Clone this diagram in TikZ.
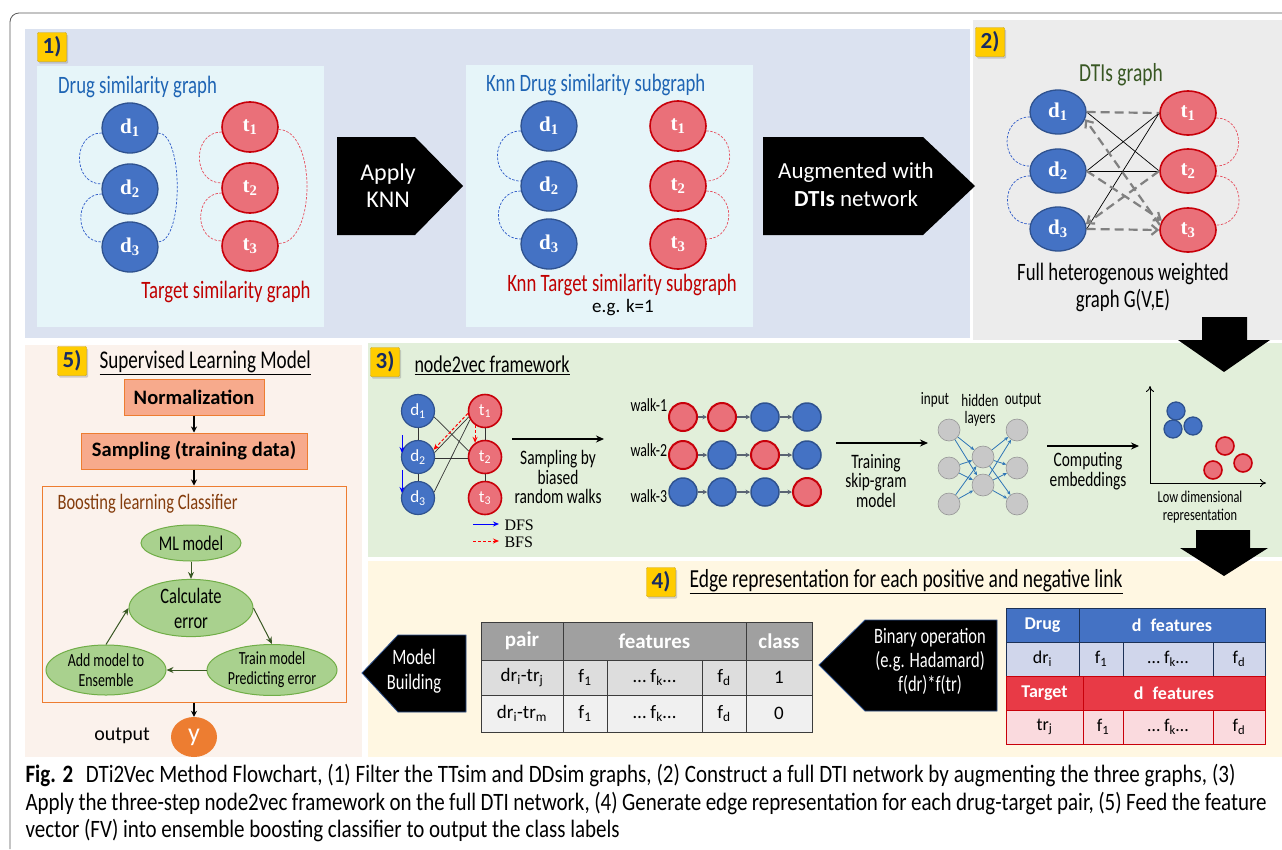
\documentclass[tikz,border=0pt]{standalone}
\usepackage{fontspec}
\setmainfont{Carlito}
\newfontfamily\condf{Carlito}[FakeStretch=0.75]
\newfontfamily\capf{Carlito}[FakeStretch=0.84]
\newfontfamily\serf{Liberation Serif}
\usetikzlibrary{shapes.geometric,arrows.meta,shadows}
\newcommand\fsz[2]{\fontsize{#1}{#2}\selectfont}
\definecolor{pA}{RGB}{219,226,240}
\definecolor{pB}{RGB}{236,236,236}
\definecolor{pC}{RGB}{226,239,218}
\definecolor{pD}{RGB}{255,247,226}
\definecolor{pE}{RGB}{251,242,236}
\definecolor{inbox}{RGB}{230,245,249}
\definecolor{dfill}{RGB}{68,114,196}
\definecolor{dbord}{RGB}{47,82,143}
\definecolor{tfill}{RGB}{234,112,121}
\definecolor{tbord}{RGB}{200,0,10}
\definecolor{arcblue}{RGB}{45,90,200}
\definecolor{arcred}{RGB}{230,80,95}
\definecolor{lblY}{RGB}{255,204,0}
\definecolor{navy}{RGB}{23,43,99}
\definecolor{txtblue}{RGB}{30,100,180}
\definecolor{txtred}{RGB}{192,0,0}
\definecolor{dgreen}{RGB}{56,87,35}
\definecolor{salmon}{RGB}{247,170,140}
\definecolor{orng}{RGB}{237,125,49}
\definecolor{lgreen}{RGB}{169,209,142}
\definecolor{mgreen}{RGB}{112,173,71}
\definecolor{brn}{RGB}{132,60,12}
\definecolor{nngrey}{RGB}{200,200,200}
\definecolor{nnbord}{RGB}{150,150,150}
\definecolor{nnblue}{RGB}{46,117,182}
\definecolor{thdr}{RGB}{160,160,160}
\definecolor{trow1}{RGB}{221,221,221}
\definecolor{trow2}{RGB}{240,240,240}
\definecolor{tline}{RGB}{60,60,60}
\definecolor{drhdr}{RGB}{68,114,196}
\definecolor{drrow}{RGB}{208,214,235}
\definecolor{tghdr}{RGB}{232,58,70}
\definecolor{tgrow}{RGB}{250,218,222}
\definecolor{walkarr}{RGB}{90,100,115}
\definecolor{framec}{RGB}{90,90,90}
\tikzset{
 lbl/.style={fill=lblY, draw=lblY!80!black, line width=0.4pt, rounded corners=1pt, font=\bfseries\fsz{23}{24}, text=navy, minimum width=29pt, minimum height=29pt, inner sep=1pt, drop shadow={opacity=0.35, shadow xshift=1.5pt, shadow yshift=-2pt}},
 dn/.style={ellipse, draw=dbord, line width=1.3pt, fill=dfill, minimum width=56pt, minimum height=50pt, inner sep=0pt, text=white, font=\serf\bfseries\fsz{21}{22}},
 tn/.style={dn, draw=tbord, fill=tfill, line width=1.6pt},
 dnb/.style={dn, minimum height=44pt},
 tnb/.style={tn, minimum height=44pt},
 bdash/.style={draw=arcblue, line width=0.7pt, dash pattern=on 2.5pt off 1.5pt},
 rdash/.style={draw=arcred, line width=0.7pt, dash pattern=on 2.5pt off 1.5pt},
 ctitle/.style={font=\condf\fsz{25}{27}, inner sep=0pt},
 wtxt/.style={text=white, align=center, inner sep=0pt},
 sd/.style={circle, draw=dbord, line width=1.2pt, fill=dfill, minimum size=33pt, inner sep=0pt, text=white, font=\fsz{17}{17}},
 st/.style={sd, draw=tbord, fill=tfill, line width=1.6pt},
 gl/.style={draw=black!80, line width=0.7pt},
 wd/.style={circle, draw=dbord, line width=1.5pt, fill=dfill, minimum size=28pt, inner sep=0pt},
 wt/.style={wd, draw=tbord, fill=tfill, line width=2pt},
 wa/.style={draw=walkarr, line width=1.2pt, -{Stealth[length=4.5pt,width=4.5pt]}},
 nn/.style={circle, draw=nnbord, line width=0.6pt, fill=nngrey, minimum size=22pt, inner sep=0pt},
 nna/.style={draw=nnblue, line width=0.8pt, -{Stealth[length=4pt,width=3.5pt]}},
 edot/.style={circle, draw=dbord, line width=1.3pt, fill=dfill, minimum size=18pt, inner sep=0pt},
 rdot/.style={edot, draw=tbord, fill=tfill, line width=1.6pt},
 la/.style={draw=black, line width=1.5pt, -{Stealth[length=8pt,width=7pt]}},
 ptxt/.style={font=\condf\fsz{20.5}{19.5}, align=center, inner sep=0pt},
 sb/.style={draw=orng, line width=1pt, fill=salmon, font=\bfseries\fsz{20.5}{22}, inner sep=0pt},
 ge/.style={ellipse, draw=mgreen, line width=1pt, fill=lgreen, align=center, inner sep=0pt},
 ga/.style={draw=dgreen, line width=1pt, -{Stealth[length=7pt,width=6pt]}},
 ba/.style={draw=black, line width=1.4pt, -{Stealth[length=6pt,width=6pt]}},
 gd/.style={draw=black!50, line width=2.2pt, dash pattern=on 9pt off 5pt},
 gda/.style={gd, -{Straight Barb[length=6pt,width=10pt]}},
 bl/.style={draw=black, line width=0.7pt},
 cell/.style={draw=tline, line width=0.9pt, inner sep=0pt, font=\fsz{19}{20}},
 hcell/.style={cell, fill=thdr, text=white, font=\bfseries\fsz{21}{22}},
 dcell/.style={draw=dbord!60!black, line width=0.8pt, inner sep=0pt, font=\fsz{18}{20}},
 tcell/.style={draw=tbord, line width=0.8pt, inner sep=0pt, font=\fsz{18}{20}},
}
\begin{document}
\begin{tikzpicture}[x=1pt,y=-1pt]
\useasboundingbox (0,0) rectangle (1282,849);
\fill[white] (0,0) rectangle (1282,849);
% panel backgrounds
\fill[pA] (25,29) rectangle (970,338);
\fill[pB] (973,20) rectangle (1282,340);
\fill[pE] (25,345) rectangle (362,757);
\fill[pC] (368,343) rectangle (1282,557);
\fill[pD] (368,561) rectangle (1282,757);
\draw[framec, line width=0.8pt, rounded corners=9pt] (10,849) -- (10,13) -- (1282,13);

% ---------- panel 1
\node[lbl] (L1) at (52,47) {1)};
\fill[inbox] (37,66) rectangle (324,327);
\node[ctitle, text=txtblue, anchor=west] (T1a) at (58,87) {Drug similarity graph};
\node[ctitle, text=txtred] (T1b) at (226,292) {Target similarity graph};
\node[dn] (a1) at (130,128) {d\textsubscript{1}};
\node[dn] (a2) at (130,189) {d\textsubscript{2}};
\node[dn] (a3) at (130,247) {d\textsubscript{3}};
\node[tn] (b1) at (250,127) {t\textsubscript{1}};
\node[tn] (b2) at (250,188) {t\textsubscript{2}};
\node[tn] (b3) at (250,246) {t\textsubscript{3}};
\draw[bdash] (a1.190) to[out=180,in=180,looseness=1.5] (a2.170);
\draw[bdash] (a2.190) to[out=180,in=180,looseness=1.5] (a3.170);
\draw[bdash] (a1.-10) to[out=0,in=0,looseness=0.6] (a3.10);
\draw[rdash] (b1.190) to[out=180,in=180,looseness=1.5] (b2.170);
\draw[rdash] (b2.190) to[out=180,in=180,looseness=1.5] (b3.170);
\draw[rdash] (b1.-5) to[out=0,in=0,looseness=0.85] (b3.5);

\fill[black] (337,137) -- (415,137) -- (463,186) -- (415,235) -- (337,235) -- cycle;
\node[wtxt, font=\fsz{24}{27}] (knn) at (388,186) {Apply\\KNN};

% ---------- middle box
\fill[inbox] (466,65) rectangle (753,327);
\node[ctitle, text=txtblue, anchor=west] (T2a) at (486,85) {Knn Drug similarity subgraph};
\node[ctitle, text=txtred] (T2b) at (622,285) {Knn Target similarity subgraph};
\node[font=\fsz{19}{20}] (T2c) at (623,308) {e.g. k=1};
\node[dn] (c1) at (549,126) {d\textsubscript{1}};
\node[dn] (c2) at (549,186) {d\textsubscript{2}};
\node[dn] (c3) at (549,244) {d\textsubscript{3}};
\node[tn] (e1) at (678,126) {t\textsubscript{1}};
\node[tn] (e2) at (678,186) {t\textsubscript{2}};
\node[tn] (e3) at (678,244) {t\textsubscript{3}};
\draw[bdash] (c1.190) to[out=180,in=180,looseness=1.6] (c2.170);
\draw[bdash] (c2.190) to[out=180,in=180,looseness=1.6] (c3.170);
\draw[rdash] (e1.-10) to[out=0,in=0,looseness=1.6] (e2.10);
\draw[rdash] (e2.-10) to[out=0,in=0,looseness=1.6] (e3.10);

\fill[black] (763,137) -- (923,137) -- (975,186) -- (923,235) -- (763,235) -- cycle;
\node[wtxt, font=\fsz{23}{28}] (aug) at (856,185) {Augmented with\\\textbf{DTIs} network};

% ---------- panel 2
\node[lbl] (L2) at (990,42) {2)};
\node[ctitle, text=dgreen, font=\condf\fsz{26}{28}] (T3a) at (1121,75) {DTIs graph};
\node[ctitle, align=center, font=\condf\fsz{25}{27}] (T3b) at (1123,287) {Full heterogenous weighted\\graph G(V,E)};
\node[dnb] (f1) at (1058,112) {d\textsubscript{1}};
\node[dnb] (f2) at (1058,171) {d\textsubscript{2}};
\node[dnb] (f3) at (1058,229) {d\textsubscript{3}};
\node[tnb] (g1) at (1188,113) {t\textsubscript{1}};
\node[tnb] (g2) at (1188,171) {t\textsubscript{2}};
\node[tnb] (g3) at (1188,230) {t\textsubscript{3}};
\draw[bdash] (f1.190) to[out=180,in=180,looseness=1.6] (f2.170);
\draw[bdash] (f2.190) to[out=180,in=180,looseness=1.6] (f3.170);
\draw[rdash] (g1.-10) to[out=0,in=0,looseness=1.6] (g2.10);
\draw[rdash] (g2.-10) to[out=0,in=0,looseness=1.6] (g3.10);
\draw[bl] (f1.east) -- (g2.west);
\draw[bl] (f2.east) -- (g1.west);
\draw[bl] (f2.east) -- (g2.west);
\draw[bl] (f3.east) -- (g1.west);
\draw[gd] (f1.east) -- (g1.west);
\draw[gda] (f3.east) -- (g3.west);
\draw[gda] (g3.170) -- (f1.-15);
\draw[gda] (f2.east) -- (g3.160);
\draw[gda] (g2.west) -- (f3.10);

% big down arrows
\fill[black] (1202,317) -- (1247,317) -- (1247,340) -- (1270,340) -- (1224,372) -- (1178,340) -- (1202,340) -- cycle;
\fill[black] (1196,530) -- (1250,530) -- (1250,548) -- (1268,548) -- (1224,576) -- (1180,548) -- (1196,548) -- cycle;

% ---------- panel 3
\node[lbl] (L3) at (385,362) {3)};
\node[anchor=west, font=\condf\fsz{24}{26}] (T4) at (411,365) {\underline{node2vec framework}};
\node[sd] (h1) at (418,411) {d\textsubscript{1}};
\node[sd] (h2) at (418,457) {d\textsubscript{2}};
\node[sd] (h3) at (418,498) {d\textsubscript{3}};
\node[st] (k1) at (485,411) {t\textsubscript{1}};
\node[st] (k2) at (485,457) {t\textsubscript{2}};
\node[st] (k3) at (485,498) {t\textsubscript{3}};
\draw[gl] (h1) -- (h2); \draw[gl] (h2) -- (h3);
\draw[gl] (k1) -- (k2); \draw[gl] (k2) -- (k3);
\draw[gl] (h1.-20) -- (k2.160);
\draw[gl] (h2.15) -- (k1.200);
\draw[gl] (h2.-5) -- (k2.185);
\draw[gl] (h3.20) -- (k1.210);
\coordinate (dfa1) at (402,435); \coordinate (dfa2) at (402,453);
\coordinate (dfb1) at (402,470); \coordinate (dfb2) at (402,493);
\draw[blue, line width=1pt, -{Stealth[length=6pt,width=5pt]}] (dfa1) -- (dfa2);
\draw[blue, line width=1pt, -{Stealth[length=6pt,width=5pt]}] (dfb1) -- (dfb2);
\draw[red, line width=1pt, dash pattern=on 3pt off 2pt, -{Stealth[length=6pt,width=5pt]}] (k1.188) -- (h2.25);
\draw[red, line width=1pt, dash pattern=on 3pt off 2pt, -{Stealth[length=6pt,width=5pt]}] (k1.235) -- (k2.125);
\coordinate (lgA1) at (473,524); \coordinate (lgA2) at (499,524);
\coordinate (lgB1) at (473,541); \coordinate (lgB2) at (499,541);
\draw[blue, line width=1pt, -{Stealth[length=6pt,width=5pt]}] (lgA1) -- (lgA2);
\draw[red, line width=1pt, dash pattern=on 3pt off 2pt, -{Stealth[length=6pt,width=5pt]}] (lgB1) -- (lgB2);
\node[anchor=west, font=\serf\fsz{16}{16}] (dfsT) at (501,525) {DFS};
\node[anchor=west, font=\serf\fsz{16}{16}] (bfsT) at (501,542) {BFS};
\coordinate (sa1) at (512,439); \coordinate (sa2) at (604,439);
\draw[la] (sa1) -- (sa2);
\node[ptxt] (samp3) at (558,477) {Sampling by\\biased\\random walks};

\node[anchor=west, font=\condf\fsz{18.5}{19}] (wl1) at (627,405) {walk-1};
\node[anchor=west, font=\condf\fsz{18.5}{19}] (wl2) at (627,450) {walk-2};
\node[anchor=west, font=\condf\fsz{18.5}{19}] (wl3) at (627,496) {walk-3};
\node[wt] (w11) at (683,417) {}; \node[wt] (w12) at (722,417) {}; \node[wd] (w13) at (765,417) {}; \node[wd] (w14) at (807,417) {};
\node[wt] (w21) at (683,455) {}; \node[wd] (w22) at (722,455) {}; \node[wt] (w23) at (765,455) {}; \node[wd] (w24) at (807,455) {};
\node[wd] (w31) at (683,492) {}; \node[wd] (w32) at (722,492) {}; \node[wd] (w33) at (765,492) {}; \node[wt] (w34) at (807,492) {};
\draw[wa] (w11) -- (w12); \draw[wa] (w12) -- (w13); \draw[wa] (w13) -- (w14);
\draw[wa] (w21) -- (w22); \draw[wa] (w22) -- (w23); \draw[wa] (w23) -- (w24);
\draw[wa] (w31) -- (w32); \draw[wa] (w32) -- (w33); \draw[wa] (w33) -- (w34);

\coordinate (ta1) at (836,443); \coordinate (ta2) at (928,443);
\draw[la] (ta1) -- (ta2);
\node[ptxt] (train) at (876,481) {Training\\skip-gram\\model};

\node[font=\condf\fsz{17.5}{18}] (inL) at (935,400) {input};
\node[font=\condf\fsz{17.5}{18}] (hidL) at (980,400) {hidden};
\node[font=\condf\fsz{17.5}{18}] (outL) at (1023,400) {output};
\node[font=\condf\fsz{17.5}{18}] (layL) at (980,419) {layers};
\node[nn] (n1) at (949,430) {}; \node[nn] (n2) at (949,468) {}; \node[nn] (n3) at (949,504) {};
\node[nn] (m1) at (983,457) {}; \node[nn] (m2) at (983,485) {};
\node[nn] (o1) at (1017,430) {}; \node[nn] (o2) at (1017,468) {}; \node[nn] (o3) at (1017,504) {};
\foreach \i in {n1,n2,n3} { \foreach \j in {m1,m2} { \draw[nna] (\i) -- (\j); } }
\foreach \i in {m1,m2} { \foreach \j in {o1,o2,o3} { \draw[nna] (\i) -- (\j); } }

\coordinate (ca1) at (1047,446); \coordinate (ca2) at (1139,446);
\draw[la] (ca1) -- (ca2);
\node[ptxt] (comp) at (1088,471) {Computing\\embeddings};

\coordinate (ax0) at (1150,483); \coordinate (axy) at (1150,386); \coordinate (axx) at (1266,483);
\draw[line width=0.9pt, -{To[length=6pt,width=8pt]}] (ax0) -- (axy);
\draw[line width=0.9pt, -{To[length=6pt,width=8pt]}] (ax0) -- (axx);
\node[edot] (em1) at (1176,411) {}; \node[edot] (em2) at (1173,429) {}; \node[edot] (em3) at (1193,426) {};
\node[rdot] (em4) at (1225,446) {}; \node[rdot] (em5) at (1243,463) {}; \node[rdot] (em6) at (1213,470) {};
\node[align=center, font=\condf\fsz{16.5}{18}] (lowd) at (1200,507) {Low dimensional\\representation};

% ---------- panel 4
\node[lbl] (L4) at (661,582) {4)};
\node[anchor=west, font=\condf\fsz{26}{27}] (T5) at (686,582) {\underline{Edge representation for each positive and negative link}};

% table of pairs
\node[hcell, minimum width=82pt, minimum height=38pt] (hp) at (522,641) {pair};
\node[hcell, minimum width=183pt, minimum height=38pt] (hf) at (654.5,641) {features};
\node[hcell, minimum width=66pt, minimum height=38pt] (hc) at (779,641) {class};
\node[cell, fill=trow1, minimum width=82pt, minimum height=35pt] (r1p) at (522,677.5) {dr\textsubscript{i}-tr\textsubscript{j}};
\node[cell, fill=trow1, minimum width=44pt, minimum height=35pt] (r1a) at (585,677.5) {f\textsubscript{1}};
\node[cell, fill=trow1, minimum width=95pt, minimum height=35pt] (r1b) at (654.5,677.5) {… f\textsubscript{k}…};
\node[cell, fill=trow1, minimum width=44pt, minimum height=35pt] (r1c) at (724,677.5) {f\textsubscript{d}};
\node[cell, fill=trow1, minimum width=66pt, minimum height=35pt] (r1d) at (779,677.5) {1};
\node[cell, fill=trow2, minimum width=82pt, minimum height=37pt] (r2p) at (522,713.5) {dr\textsubscript{i}-tr\textsubscript{m}};
\node[cell, fill=trow2, minimum width=44pt, minimum height=37pt] (r2a) at (585,713.5) {f\textsubscript{1}};
\node[cell, fill=trow2, minimum width=95pt, minimum height=37pt] (r2b) at (654.5,713.5) {… f\textsubscript{k}…};
\node[cell, fill=trow2, minimum width=44pt, minimum height=37pt] (r2c) at (724,713.5) {f\textsubscript{d}};
\node[cell, fill=trow2, minimum width=66pt, minimum height=37pt] (r2d) at (779,713.5) {0};

% model building arrow
\filldraw[fill=black, draw=dbord, line width=0.8pt] (466,635) -- (398,635) -- (362,673) -- (398,712) -- (466,712) -- cycle;
\node[wtxt, font=\condf\fsz{22}{25}] (mb) at (414,671) {Model\\Building};

% binary operation arrow
\filldraw[fill=black, draw=dbord, line width=0.8pt] (997,620) -- (865,620) -- (819,665) -- (865,711) -- (997,711) -- cycle;
\node[wtxt, font=\condf\fsz{22}{24}] (bo) at (930,661) {Binary operation\\(e.g. Hadamard)\\f(dr)*f(tr)};

% drug / target table
\node[dcell, fill=drhdr, text=white, font=\bfseries\fsz{18}{20}, minimum width=73pt, minimum height=34pt] (dh1) at (1042.5,625) {Drug};
\node[dcell, fill=drhdr, text=white, font=\bfseries\fsz{18}{20}, minimum width=186pt, minimum height=34pt] (dh2) at (1172,625) {d\enspace features};
\node[dcell, fill=drrow, minimum width=73pt, minimum height=34pt] (dr1) at (1042.5,659) {dr\textsubscript{i}};
\node[dcell, fill=drrow, minimum width=44pt, minimum height=34pt] (dr2) at (1101,659) {f\textsubscript{1}};
\node[dcell, fill=drrow, minimum width=90pt, minimum height=34pt] (dr3) at (1168,659) {… f\textsubscript{k}…};
\node[dcell, fill=drrow, minimum width=52pt, minimum height=34pt] (dr4) at (1239,659) {f\textsubscript{d}};
\node[tcell, fill=tghdr, text=white, font=\bfseries\fsz{18}{20}, minimum width=77pt, minimum height=34pt] (th1) at (1044.5,693) {Target};
\node[tcell, fill=tghdr, text=white, font=\bfseries\fsz{18}{20}, minimum width=182pt, minimum height=34pt] (th2) at (1174,693) {d\enspace features};
\node[tcell, fill=tgrow, minimum width=77pt, minimum height=34pt] (tr1) at (1044.5,727) {tr\textsubscript{j}};
\node[tcell, fill=tgrow, minimum width=40pt, minimum height=34pt] (tr2) at (1103,727) {f\textsubscript{1}};
\node[tcell, fill=tgrow, minimum width=90pt, minimum height=34pt] (tr3) at (1168,727) {… f\textsubscript{k}…};
\node[tcell, fill=tgrow, minimum width=52pt, minimum height=34pt] (tr4) at (1239,727) {f\textsubscript{d}};

% ---------- panel 5
\node[lbl] (L5) at (72,361) {5)};
\node[anchor=west, font=\condf\fsz{25.5}{27}] (T6) at (96,363) {\underline{Supervised Learning Model}};
\node[sb, minimum width=140pt, minimum height=36pt] (norm) at (194,397) {Normalization};
\node[sb, minimum width=226pt, minimum height=36pt] (samp) at (194,451) {Sampling (training data)};
\node[draw=orng, line width=1pt, minimum width=304pt, minimum height=216pt, inner sep=0pt] (boost) at (194,594) {};
\node[anchor=west, text=brn, font=\condf\fsz{22}{24}] (bt) at (54,504) {Boosting learning Classifier};
\node[ge, minimum width=100pt, minimum height=36pt, font=\condf\fsz{21}{21}] (ml) at (191,543) {ML model};
\node[ge, minimum width=124pt, minimum height=52pt, font=\condf\fsz{22}{25}] (calc) at (191,608) {Calculate\\error};
\node[ge, minimum width=120pt, minimum height=50pt, font=\condf\fsz{18.5}{20}] (add) at (106,670) {Add model to\\Ensemble};
\node[ge, minimum width=130pt, minimum height=50pt, font=\condf\fsz{18.5}{20}] (trn) at (272,670) {Train model\\Predicting error};
\node[ellipse, fill=orng, minimum width=46pt, minimum height=40pt, inner sep=0pt, text=white, font=\fsz{26}{26}] (yout) at (194,737) {y};
\node[font=\fsz{20}{22}] (outT) at (122,736) {output};
\draw[ba] (norm) -- (samp);
\draw[ba] (samp) -- (boost);
\draw[ba] (boost) -- (yout);
\draw[ga] (ml) -- (calc);
\draw[ga] (calc.east) -- (trn.north);
\draw[ga] (trn) -- (add);
\draw[ga] (add.north) -- (calc.west);

% ---------- caption
\node[anchor=west, font=\capf\fsz{25}{26}] (cap1) at (22,775) {\makebox[1210pt][s]{\textbf{Fig. 2}\enspace DTi2Vec Method Flowchart, (1) Filter the TTsim and DDsim graphs, (2) Construct a full DTI network by augmenting the three graphs, (3)}};
\node[anchor=west, font=\capf\fsz{25}{26}] (cap2) at (22,803) {\makebox[1241pt][s]{Apply the three-step node2vec framework on the full DTI network, (4) Generate edge representation for each drug-target pair, (5) Feed the feature}};
\node[anchor=west, font=\capf\fsz{25}{26}] (cap3) at (22,830) {vector (FV) into ensemble boosting classifier to output the class labels};
\end{tikzpicture}
\end{document}
